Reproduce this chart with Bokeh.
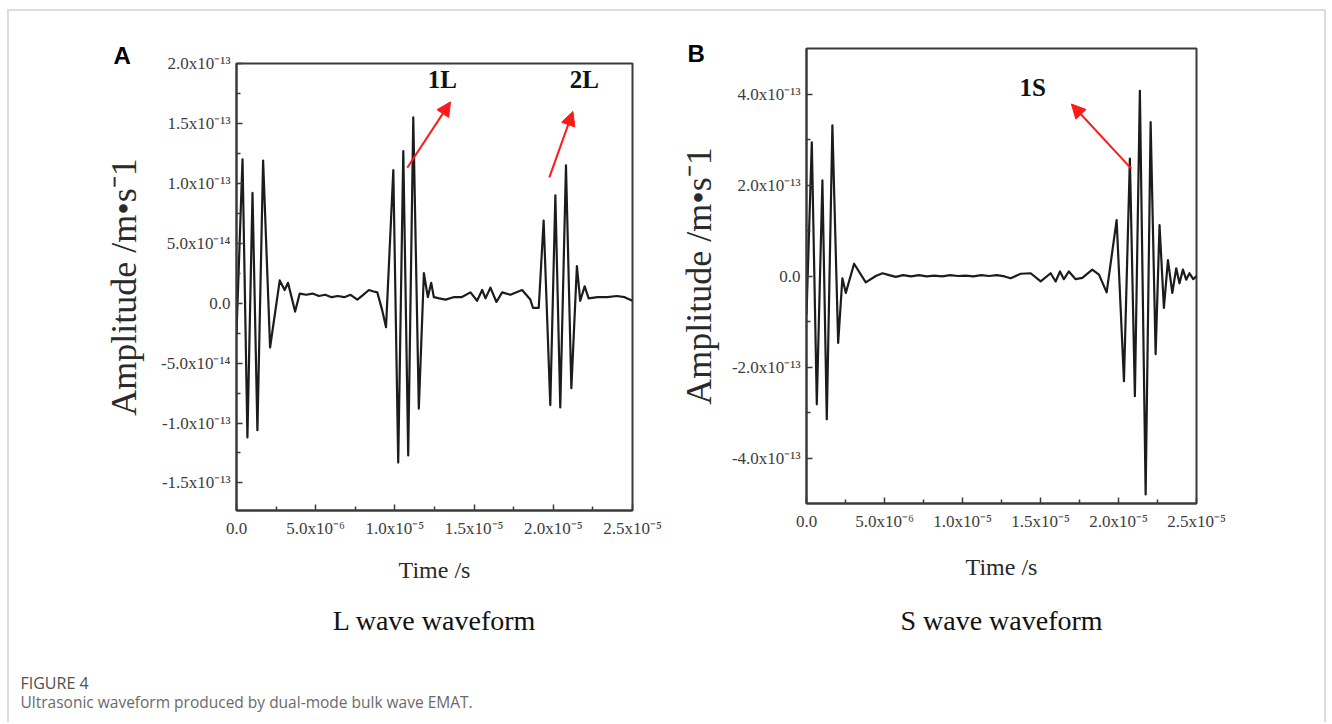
from bokeh.plotting import figure
from bokeh.layouts import row, column
from bokeh.models import FixedTicker, Label, Arrow, NormalHead, Range1d, Title
from bokeh.embed import file_html
from bokeh.resources import INLINE

# ---------------- data ----------------
# Panel A (L wave): time in microseconds, amplitude in 1e-13 m/s
time_L_us = [0.00, 0.38, 0.69, 1.01, 1.32, 1.68, 2.12, 2.73, 3.04, 3.25, 3.70, 3.99,
             4.40, 4.80, 5.20, 5.60, 6.00, 6.40, 6.80, 7.20, 7.63, 8.00, 8.36, 8.60,
             8.89, 9.20, 9.44, 9.90, 10.21, 10.53, 10.84, 11.16, 11.51, 11.83, 12.08,
             12.29, 12.46, 12.80, 13.20, 13.70, 14.20, 14.77, 15.19, 15.51, 15.72,
             16.03, 16.41, 16.77, 17.29, 18.03, 18.55, 18.72, 19.08, 19.39, 19.81,
             20.13, 20.44, 20.80, 21.14, 21.49, 21.70, 21.98, 22.23, 22.80, 23.40,
             24.02, 24.50, 25.00]
amp_L_e13 = [-0.25, 1.20, -1.12, 0.92, -1.06, 1.19, -0.37, 0.19, 0.11, 0.17, -0.07, 0.08,
             0.07, 0.08, 0.06, 0.07, 0.05, 0.06, 0.05, 0.07, 0.03, 0.07, 0.11, 0.10,
             0.09, -0.06, -0.20, 1.11, -1.33, 1.27, -1.27, 1.55, -0.88, 0.25, 0.05,
             0.17, 0.05, 0.04, 0.03, 0.05, 0.05, 0.09, 0.02, 0.11, 0.04,
             0.13, 0.01, 0.09, 0.07, 0.11, 0.03, -0.04, -0.04, 0.69, -0.85,
             0.90, -0.87, 1.15, -0.71, 0.31, 0.02, 0.14, 0.04, 0.05, 0.05,
             0.06, 0.05, 0.02]

# Panel B (S wave): time in microseconds, amplitude in 1e-13 m/s
time_S_us = [0.00, 0.34, 0.66, 1.02, 1.30, 1.66, 2.03, 2.30, 2.52, 3.05, 3.80, 4.44,
             4.87, 5.30, 5.72, 6.20, 6.70, 7.20, 7.70, 8.20, 8.70, 9.20, 9.70, 10.20,
             10.70, 11.20, 11.70, 12.20, 12.70, 13.09, 13.73, 14.37, 15.01, 15.65,
             15.97, 16.25, 16.50, 16.82, 17.25, 17.68, 18.32, 18.75, 19.24, 19.88,
             20.35, 20.73, 21.05, 21.37, 21.74, 22.06, 22.38, 22.63, 22.91, 23.17,
             23.45, 23.70, 23.91, 24.13, 24.34, 24.55, 24.79, 25.00]
amp_S_e13 = [-0.85, 2.94, -2.82, 2.10, -3.15, 3.31, -1.47, -0.05, -0.37, 0.27, -0.14, 0.00,
             0.06, 0.02, -0.02, 0.02, -0.01, 0.02, -0.01, 0.01, -0.01, 0.02, 0.00, 0.01,
             -0.01, 0.02, 0.00, 0.02, -0.01, -0.05, 0.05, 0.06, -0.12, 0.06,
             -0.12, 0.10, -0.07, 0.10, -0.07, -0.04, 0.14, 0.03, -0.36, 1.23,
             -2.31, 2.58, -2.64, 4.07, -4.80, 3.38, -1.72, 1.12, -0.70, 0.35,
             -0.37, 0.17, -0.16, 0.14, -0.08, 0.06, -0.07, 0.00]

x_ticks = [0.0, 5e-6, 1e-5, 1.5e-5, 2e-5, 2.5e-5]
x_minor = [2.5e-6, 7.5e-6, 1.25e-5, 1.75e-5, 2.25e-5]
x_tick_labels = ["0.0", "5.0x10\u207b\u2076", "1.0x10\u207b\u2075", "1.5x10\u207b\u2075",
                 "2.0x10\u207b\u2075", "2.5x10\u207b\u2075"]

yA_ticks = [-1.5e-13, -1.0e-13, -5e-14, 0.0, 5e-14, 1.0e-13, 1.5e-13, 2.0e-13]
yA_minor = [-1.25e-13, -7.5e-14, -2.5e-14, 2.5e-14, 7.5e-14, 1.25e-13, 1.75e-13]
yA_tick_labels = ["-1.5x10\u207b\u00b9\u00b3", "-1.0x10\u207b\u00b9\u00b3", "-5.0x10\u207b\u00b9\u2074",
                  "0.0", "5.0x10\u207b\u00b9\u2074", "1.0x10\u207b\u00b9\u00b3",
                  "1.5x10\u207b\u00b9\u00b3", "2.0x10\u207b\u00b9\u00b3"]

yB_ticks = [-4e-13, -2e-13, 0.0, 2e-13, 4e-13]
yB_minor = [-3e-13, -1e-13, 1e-13, 3e-13]
yB_tick_labels = ["-4.0x10\u207b\u00b9\u00b3", "-2.0x10\u207b\u00b9\u00b3", "0.0",
                  "2.0x10\u207b\u00b9\u00b3", "4.0x10\u207b\u00b9\u00b3"]

SERIF = "Liberation Serif"
AX = "#3a3a3a"


def make_panel(t_us, a_e13, yr, yticks, yminor, ylabels, fw, fh, mb, ylab_standoff, xlab_standoff):
    p = figure(frame_width=fw, frame_height=fh,
               x_range=Range1d(0, 2.5e-5), y_range=Range1d(*yr),
               output_backend="svg", toolbar_location=None,
               min_border_left=mb[0], min_border_right=mb[1],
               min_border_top=mb[2], min_border_bottom=mb[3])
    p.grid.visible = False
    p.background_fill_color = "white"
    p.border_fill_color = "white"
    p.outline_line_color = AX
    p.outline_line_width = 2
    p.outline_line_alpha = 1.0

    p.xaxis.ticker = FixedTicker(ticks=x_ticks, minor_ticks=x_minor)
    p.xaxis.major_label_overrides = dict(zip(x_ticks, x_tick_labels))
    p.yaxis.ticker = FixedTicker(ticks=yticks, minor_ticks=yminor)
    p.yaxis.major_label_overrides = dict(zip(yticks, ylabels))

    for ax in (p.xaxis[0], p.yaxis[0]):
        ax.axis_line_color = AX
        ax.axis_line_width = 2
        ax.major_tick_in = 6
        ax.major_tick_out = 0
        ax.minor_tick_in = 4
        ax.minor_tick_out = 0
        ax.major_tick_line_color = AX
        ax.major_tick_line_width = 1.5
        ax.minor_tick_line_color = AX
        ax.minor_tick_line_width = 1.5
        ax.major_label_text_font = SERIF
        ax.major_label_text_font_size = "17px"
        ax.major_label_text_color = "#3c3c3c"
        ax.axis_label_text_font = SERIF
        ax.axis_label_text_font_style = "normal"
        ax.axis_label_text_color = "#2a2a2a"

    p.xaxis.axis_label = "Time /s"
    p.xaxis.axis_label_text_font_size = "24px"
    p.xaxis.major_label_standoff = 8
    p.xaxis.axis_label_standoff = xlab_standoff

    p.yaxis.axis_label = "Amplitude /m\u2022s\u207b1"
    p.yaxis.axis_label_text_font_size = "36px"
    p.yaxis.major_label_standoff = 6
    p.yaxis.axis_label_standoff = ylab_standoff

    t = [v * 1e-6 for v in t_us]
    a = [v * 1e-13 for v in a_e13]
    p.line(t, a, line_color="#1c1c1c", line_width=2.2, line_join="round")
    return p


pA = make_panel(time_L_us, amp_L_e13, (-1.73e-13, 2.0e-13), yA_ticks, yA_minor, yA_tick_labels,
                396, 447, (227, 30, 52, 150), 14, 16)
pB = make_panel(time_S_us, amp_S_e13, (-5.0e-13, 5.0e-13), yB_ticks, yB_minor, yB_tick_labels,
                390, 455, (144, 128, 37, 157), 10, 20)

RED = "#ff1a1a"


def arrow(p, x0, y0, x1, y1):
    p.add_layout(Arrow(end=NormalHead(size=14, fill_color=RED, line_color=RED),
                       x_start=x0, y_start=y0, x_end=x1, y_end=y1,
                       line_color=RED, line_width=2))


def tag(p, x, y, text):
    p.add_layout(Label(x=x, y=y, text=text, text_font=SERIF, text_font_style="bold",
                       text_font_size="25px", text_color="#111111",
                       text_align="center", text_baseline="middle"))


# annotations (data units)
arrow(pA, 10.78e-6, 1.13e-13, 13.51e-6, 1.68e-13)
arrow(pA, 19.75e-6, 1.05e-13, 21.24e-6, 1.60e-13)
tag(pA, 12.99e-6, 1.87e-13, "1L")
tag(pA, 21.96e-6, 1.87e-13, "2L")
arrow(pB, 20.82e-6, 2.36e-13, 16.98e-6, 3.78e-13)
tag(pB, 14.50e-6, 4.14e-13, "1S")

# panel letters (titles above, shifted left of the frame)
pA.add_layout(Title(text="A", align="left", offset=-123, standoff=-10,
                    text_font="Liberation Sans", text_font_style="bold",
                    text_font_size="24px", text_color="#000000"), "above")
pB.add_layout(Title(text="B", align="left", offset=-119, standoff=-36,
                    text_font="Liberation Sans", text_font_style="bold",
                    text_font_size="24px", text_color="#000000"), "above")

# sub-captions (titles below the x axis)
pA.add_layout(Title(text="L wave waveform", align="center", standoff=34,
                    text_font=SERIF, text_font_style="normal",
                    text_font_size="28px", text_color="#111111"), "below")
pB.add_layout(Title(text="S wave waveform", align="center", standoff=40,
                    text_font=SERIF, text_font_style="normal",
                    text_font_size="28px", text_color="#111111"), "below")

# figure caption strip
CW, CH = 1315, 62
pC = figure(width=CW, height=CH, x_range=Range1d(0, CW), y_range=Range1d(CH, 0),
            output_backend="svg", toolbar_location=None,
            x_axis_location=None, y_axis_location=None, min_border=0)
pC.grid.visible = False
pC.outline_line_color = None
pC.background_fill_color = "white"
pC.border_fill_color = "white"
pC.add_layout(Label(x=11, y=22, text="FIGURE 4", text_font="Open Sans",
                    text_font_size="16px", text_color="#505050",
                    text_align="left", text_baseline="middle"))
pC.add_layout(Label(x=11, y=41, text="Ultrasonic waveform produced by dual-mode bulk wave EMAT.",
                    text_font="Open Sans", text_font_size="15.5px", text_color="#6a6a6a",
                    text_align="left", text_baseline="middle"))

root = column(row(column(pA), column(pB)), pC, margin=(9, 0, 0, 7),
              styles={"border-top": "2px solid #dddddd",
                      "border-left": "2px solid #dddddd",
                      "border-right": "2px solid #dddddd"})

open("out.html", "w").write(file_html(root, INLINE))
